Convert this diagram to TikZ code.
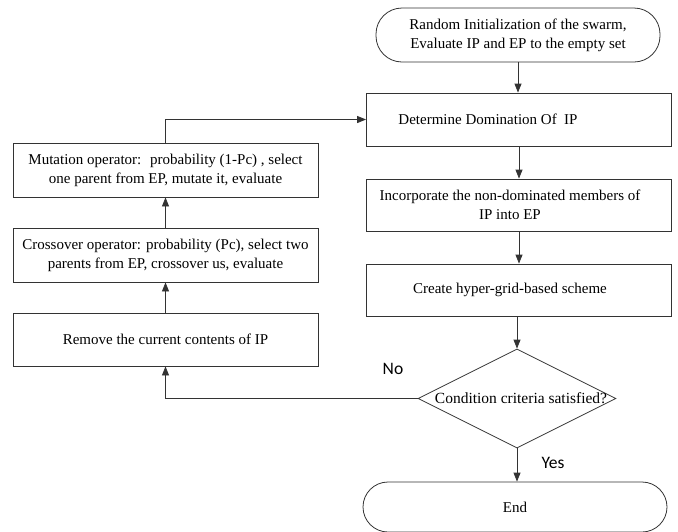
\documentclass[tikz,border=0pt]{standalone}
\usepackage{fontspec}
\setmainfont{Liberation Serif}
\newfontfamily\labelfont{Carlito}
\usetikzlibrary{arrows.meta,shapes.geometric}
\begin{document}
\begin{tikzpicture}[x=1pt,y=-1pt,
  line/.style={draw=black!80, line width=0.8pt},
  flow/.style={line, -{Triangle[length=9pt,width=7pt]}},
  boxtext/.style={font=\fontsize{15}{19}\selectfont, align=center, inner sep=0pt},
  procbox/.style={line, rectangle, minimum width=305pt, minimum height=53pt, inner sep=2pt, boxtext},
  termbox/.style={line, rectangle, rounded corners=26pt, minimum width=284pt, minimum height=54pt, boxtext},
  decision/.style={line, diamond, minimum width=198pt, minimum height=99pt, inner sep=0pt},
  yesno/.style={font=\labelfont\fontsize{17.5}{20}\selectfont}]
\useasboundingbox (0,0) rectangle (678,531);

% right column: main loop
\node[termbox] (start) at (518,35) {Random Initialization of the swarm,\\Evaluate IP and EP to the empty set};
\node[procbox] (det) at (519,119.5) {};
\node[boxtext] (dettext) at ([xshift=-31pt]det.center) {Determine Domination Of~ IP};
\node[procbox, minimum height=52pt] (inc) at (519,205) {};
\node[boxtext] (inctext) at ([xshift=-9pt]inc.center) {Incorporate the non-dominated members of\\IP into EP};
\node[procbox, minimum height=52pt] (cre) at (519,290) {};
\node[boxtext] (cretext) at ([xshift=-9pt]cre.center) {Create hyper-grid-based scheme};
\node[decision] (dia) at (517,398.5) {};
\node[font=\fontsize{15.5}{18}\selectfont] (diatext) at ([xshift=4pt]dia.center) {Condition criteria satisfied?};
\node[termbox, minimum width=304pt, minimum height=50pt, rounded corners=25pt] (end) at (515,507) {End};

% left column: variation operators
\node[procbox, minimum height=54pt] (mut) at (165.5,170) {Mutation operator:~ probability (1-Pc) , select\\one parent from EP, mutate it, evaluate};
\node[procbox, minimum height=54pt] (cro) at (165.5,255) {Crossover operator: probability (Pc), select two\\parents from EP, crossover us, evaluate};
\node[procbox] (rem) at (165.5,339.5) {Remove the current contents of IP};

% connectors
\draw[flow] (start.south) -- (start.south |- det.north);
\draw[flow] (det.south) -- (inc.north);
\draw[flow] (inc.south) -- (cre.north);
\draw[flow] (cre.south -| dia.north) -- (dia.north);
\draw[flow] (dia.south) -- (dia.south |- end.north);
\draw[flow] (dia.west) -| (rem.south);
\draw[flow] (rem.north) -- (cro.south);
\draw[flow] (cro.north) -- (mut.south);
\draw[flow] (mut.north) |- (det.west);

% branch labels
\node[yesno] (no) at (393,369) {No};
\node[yesno] (yes) at (553,463) {Yes};
\end{tikzpicture}
\end{document}
